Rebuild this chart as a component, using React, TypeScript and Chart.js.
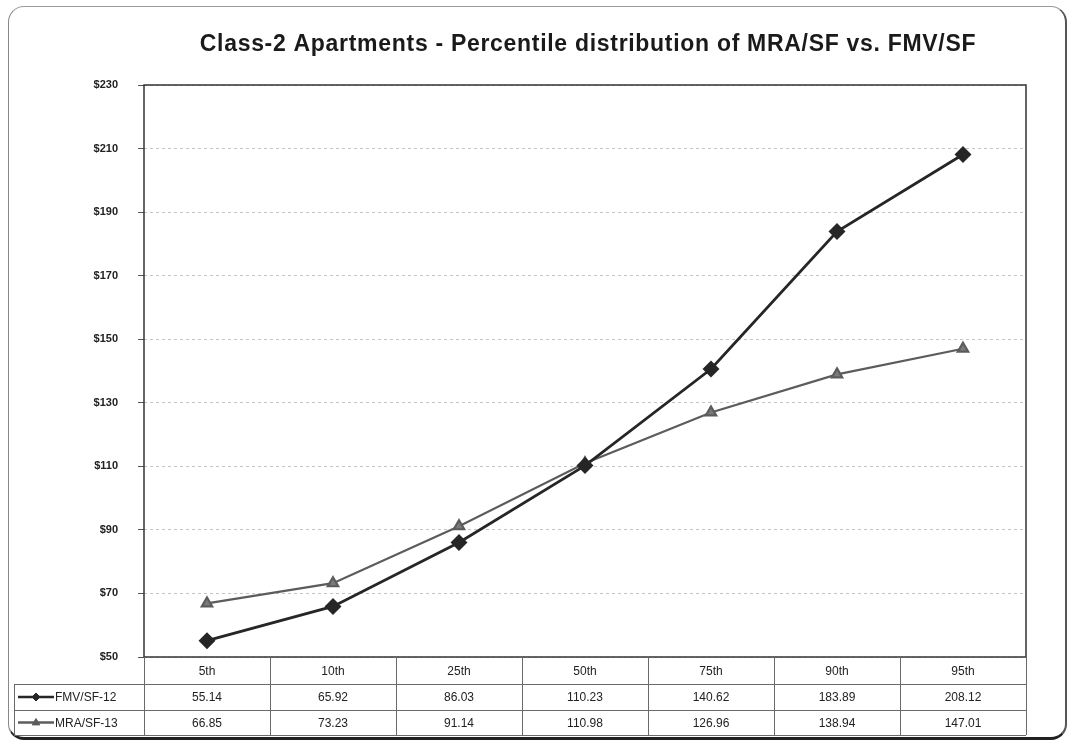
import React, { useEffect, useRef } from "react";
import { Chart, registerables } from "chart.js";

Chart.register(...registerables);

const TITLE = "Class-2 Apartments - Percentile distribution of MRA/SF vs. FMV/SF";
const percentiles = ["5th", "10th", "25th", "50th", "75th", "90th", "95th"];
const fmvSeriesName = "FMV/SF-12";
const fmvValues = [55.14, 65.92, 86.03, 110.23, 140.62, 183.89, 208.12];
const mraSeriesName = "MRA/SF-13";
const mraValues = [66.85, 73.23, 91.14, 110.98, 126.96, 138.94, 147.01];
const yMin = 50;
const yMax = 230;
const yStep = 20;

const FONT = "'Liberation Sans', Arial, sans-serif";
const FMV_COLOR = "#262626";
const MRA_COLOR = "#5c5c5c";
const MRA_FILL = "#7a7a7a";

const ROW_H = [27, 26, 25];

function drawMarker(ctx: CanvasRenderingContext2D, kind: string, x: number, y: number, r: number, fill: string, stroke: string) {
  ctx.save();
  ctx.beginPath();
  if (kind === "diamond") {
    ctx.moveTo(x, y - r);
    ctx.lineTo(x + r, y);
    ctx.lineTo(x, y + r);
    ctx.lineTo(x - r, y);
  } else {
    ctx.moveTo(x, y - r);
    ctx.lineTo(x + r * 0.95, y + r * 0.6);
    ctx.lineTo(x - r * 0.95, y + r * 0.6);
  }
  ctx.closePath();
  ctx.fillStyle = fill;
  ctx.fill();
  ctx.strokeStyle = stroke;
  ctx.lineWidth = 1;
  ctx.stroke();
  ctx.restore();
}

// Title over the plot, frame around the plot and the data table underneath.
const tablePlugin = {
  id: "dataTable",
  afterDraw(chart: any) {
    const ctx: CanvasRenderingContext2D = chart.ctx;
    const { left, right, top, bottom } = chart.chartArea;
    const n = percentiles.length;
    const colW = (right - left) / n;

    ctx.save();
    // title
    ctx.fillStyle = "#1a1a1a";
    ctx.font = `bold 23px ${FONT}`;
    (ctx as any).letterSpacing = "0.7px";
    ctx.textAlign = "center";
    ctx.textBaseline = "middle";
    ctx.fillText(TITLE, (left + right) / 2 + 3, 45);
    (ctx as any).letterSpacing = "0px";

    // plot frame
    ctx.strokeStyle = "#333";
    ctx.lineWidth = 1.5;
    ctx.strokeRect(left, top, right - left, bottom - top);

    // table grid
    const r0 = bottom;
    const r1 = r0 + ROW_H[0];
    const r2 = r1 + ROW_H[1];
    const r3 = r2 + ROW_H[2];
    const legendLeft = 14;
    ctx.strokeStyle = "#6a6a6a";
    ctx.lineWidth = 1;
    ctx.beginPath();
    for (let i = 0; i <= n; i++) {
      const x = Math.round(left + i * colW) + 0.5;
      ctx.moveTo(x, r0);
      ctx.lineTo(x, r3);
    }
    ctx.moveTo(legendLeft + 0.5, r1);
    ctx.lineTo(legendLeft + 0.5, r3);
    [r1, r2, r3].forEach((y) => {
      ctx.moveTo(legendLeft, Math.round(y) + 0.5);
      ctx.lineTo(right, Math.round(y) + 0.5);
    });
    ctx.stroke();

    ctx.fillStyle = "#222";
    ctx.font = `12px ${FONT}`;
    ctx.textAlign = "center";
    ctx.textBaseline = "middle";
    for (let i = 0; i < n; i++) {
      const cx = left + (i + 0.5) * colW;
      ctx.fillText(percentiles[i], cx, (r0 + r1) / 2 + 1);
      ctx.fillText(fmvValues[i].toFixed(2), cx, (r1 + r2) / 2 + 1);
      ctx.fillText(mraValues[i].toFixed(2), cx, (r2 + r3) / 2 + 1);
    }

    // legend keys in the first column
    const rows = [
      { name: fmvSeriesName, y: (r1 + r2) / 2, color: FMV_COLOR, kind: "diamond", fill: FMV_COLOR },
      { name: mraSeriesName, y: (r2 + r3) / 2, color: MRA_COLOR, kind: "triangle", fill: MRA_COLOR },
    ];
    rows.forEach((row) => {
      ctx.strokeStyle = row.color;
      ctx.lineWidth = 2.5;
      ctx.beginPath();
      ctx.moveTo(18, row.y);
      ctx.lineTo(54, row.y);
      ctx.stroke();
      drawMarker(ctx, row.kind, 36, row.y, 4, row.fill, row.color);
      ctx.fillStyle = "#222";
      ctx.font = `12px ${FONT}`;
      ctx.textAlign = "left";
      ctx.fillText(row.name, 55, row.y + 1);
    });
    ctx.restore();
  },
};

export default function App() {
  const canvasRef = useRef<HTMLCanvasElement | null>(null);

  useEffect(() => {
    document.body.style.margin = "0";
    const canvas = canvasRef.current;
    if (!canvas) return;
    const chart = new Chart(canvas, {
      type: "line",
      data: {
        labels: percentiles,
        datasets: [
          {
            label: fmvSeriesName,
            data: fmvValues,
            borderColor: FMV_COLOR,
            backgroundColor: FMV_COLOR,
            borderWidth: 2.8,
            pointStyle: "rectRot",
            pointRadius: 6.5,
            pointBackgroundColor: FMV_COLOR,
            pointBorderColor: FMV_COLOR,
            tension: 0,
          },
          {
            label: mraSeriesName,
            data: mraValues,
            borderColor: MRA_COLOR,
            backgroundColor: MRA_FILL,
            borderWidth: 2.2,
            pointStyle: "triangle",
            pointRadius: 6,
            pointBackgroundColor: MRA_FILL,
            pointBorderColor: MRA_COLOR,
            tension: 0,
          },
        ],
      },
      options: {
        responsive: false,
        animation: false,
        layout: { padding: { left: 0, right: 44, top: 85, bottom: 91 } },
        plugins: {
          legend: { display: false },
          title: { display: false },
          tooltip: { enabled: false },
        },
        scales: {
          x: {
            display: false,
            offset: true,
          },
          y: {
            min: yMin,
            max: yMax,
            afterFit: (scale: any) => {
              scale.width = 144;
            },
            ticks: {
              stepSize: yStep,
              padding: 20,
              color: "#222",
              font: { family: FONT, size: 11, weight: "bold" },
              callback: (v: any) => "$" + v,
            },
            grid: {
              color: "#c4c4c4",
              lineWidth: 1,
              tickLength: 6,
              tickColor: "#555",
            },
            border: { display: false, dash: [3, 3] },
          },
        },
      },
      plugins: [tablePlugin],
    });
    return () => chart.destroy();
  }, []);

  return (
    <div style={{ position: "relative", width: 1070, height: 748, background: "#fff", overflow: "hidden" }}>
      <div
        style={{
          position: "absolute",
          left: 8,
          top: 6,
          width: 1056,
          height: 730,
          borderTop: "1.5px solid #999",
          borderLeft: "1.5px solid #888",
          borderRight: "2px solid #555",
          borderBottom: "3px solid #222",
          borderRadius: 16,
        }}
      />
      <canvas ref={canvasRef} width={1070} height={748} style={{ position: "absolute", left: 0, top: 0 }} />
    </div>
  );
}
